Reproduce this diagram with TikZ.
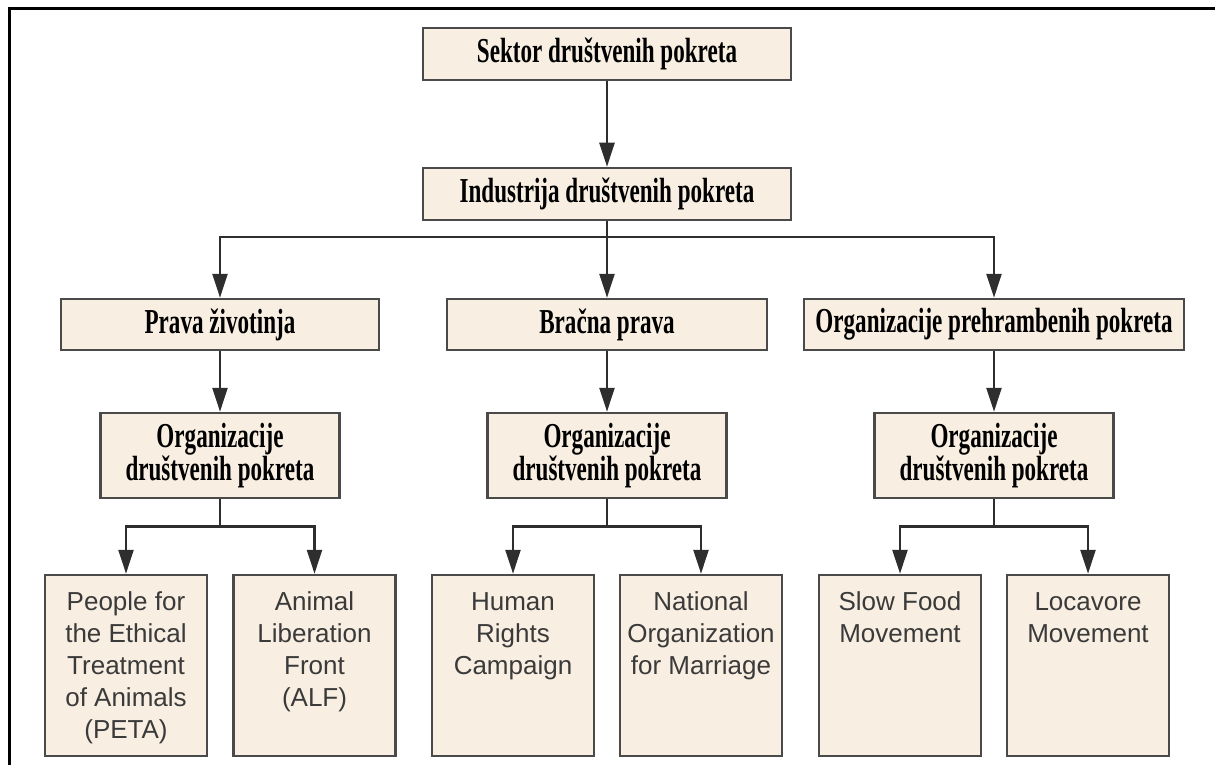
\documentclass[tikz,border=0pt]{standalone}
\usepackage{fontspec}
\setmainfont{Liberation Serif}
\newfontfamily\hdrfont[FakeStretch=0.66]{Liberation Serif}
\newfontfamily\leaffont{Liberation Sans}
\usetikzlibrary{arrows.meta}
\definecolor{boxfill}{HTML}{F8EFE2}
\definecolor{boxline}{HTML}{4A4A4A}
\definecolor{connc}{HTML}{2E2E2E}
\definecolor{leaftext}{HTML}{3A3A3A}
\newcommand\leafc[1]{\begin{minipage}[t][181pt][t]{162pt}\centering\rule{0pt}{35pt}#1\end{minipage}}
\begin{document}
\begin{tikzpicture}[x=1pt,y=-1pt,
  hbox/.style={draw=boxline,fill=boxfill,line width=2.5pt,inner sep=0pt,
    font=\hdrfont\bfseries\fontsize{35}{28}\selectfont,align=center,minimum height=52pt},
  obox/.style={hbox,minimum height=85pt,minimum width=239pt},
  leafbox/.style={draw=boxline,fill=boxfill,line width=2.5pt,inner sep=0pt,
    text=leaftext,font=\leaffont\fontsize{26}{32}\selectfont},
  conn/.style={draw=connc,line width=2.5pt},
  arr/.style={conn,-{Triangle[length=24pt,width=15pt]}}]
\useasboundingbox (0,0) rectangle (1215,765);
\draw[line width=3pt] (9,765) -- (9,9) -- (1215,9);

\node[hbox,minimum width=368pt] (top) at (607,54) {Sektor društvenih pokreta};
\node[hbox,minimum width=368pt] (ind) at (607,194) {Industrija društvenih pokreta};
\node[hbox,minimum width=318pt,minimum height=51pt] (pra) at (220,324.5) {Prava životinja};
\node[hbox,minimum width=320pt,minimum height=51pt] (bra) at (607,324.5) {Bračna prava};
\node[hbox,minimum width=380pt,minimum height=51pt] (pre) at (994,324.5) {Organizacije prehrambenih pokreta};

\node[obox] (org1) at (220,455.5) {Organizacije\\društvenih pokreta};
\node[obox] (org2) at (607,455.5) {Organizacije\\društvenih pokreta};
\node[obox] (org3) at (994,455.5) {Organizacije\\društvenih pokreta};

\node[leafbox] (peta) at (126,665.5) {\leafc{People for\\the Ethical\\Treatment\\of Animals\\(PETA)}};
\node[leafbox] (alf) at (314.5,665.5) {\leafc{Animal\\Liberation\\Front\\(ALF)}};
\node[leafbox] (hrc) at (513,665.5) {\leafc{Human\\Rights\\Campaign}};
\node[leafbox] (nom) at (701,665.5) {\leafc{National\\Organization\\for Marriage}};
\node[leafbox] (slow) at (900,665.5) {\leafc{Slow Food\\Movement}};
\node[leafbox] (loc) at (1088,665.5) {\leafc{Locavore\\Movement}};

\coordinate (j1) at (607,237);
\draw[arr] (top) -- (ind);
\draw[arr] (ind) -- (bra);
\draw[arr] (j1) -| (pra.north);
\draw[arr] (j1) -| (pre.north);

\draw[arr] (pra) -- (org1);
\draw[arr] (bra) -- (org2);
\draw[arr] (pre) -- (org3);

\draw[arr] (org1.south) -- ++(0,27) -| (peta.north);
\draw[arr] (org1.south) -- ++(0,27) -| (alf.north);
\draw[arr] (org2.south) -- ++(0,27) -| (hrc.north);
\draw[arr] (org2.south) -- ++(0,27) -| (nom.north);
\draw[arr] (org3.south) -- ++(0,27) -| (slow.north);
\draw[arr] (org3.south) -- ++(0,27) -| (loc.north);
\end{tikzpicture}
\end{document}
